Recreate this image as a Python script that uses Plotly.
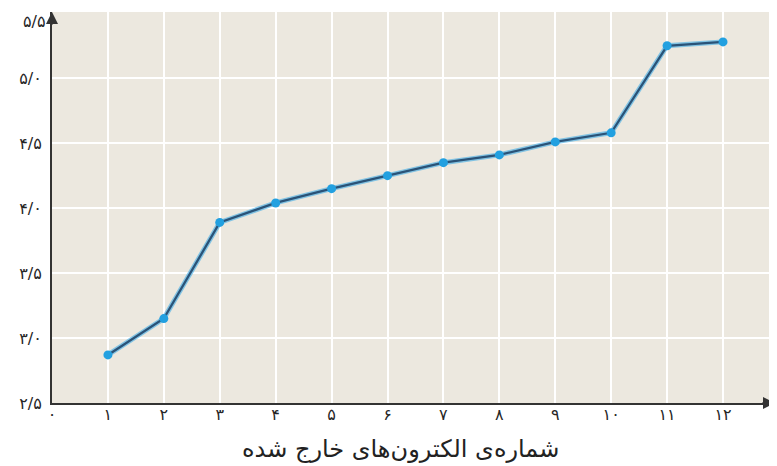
import plotly.graph_objects as go

electrons = [1, 2, 3, 4, 5, 6, 7, 8, 9, 10, 11, 12]
values = [2.87, 3.15, 3.89, 4.04, 4.15, 4.25, 4.35, 4.41, 4.51, 4.58, 5.25, 5.28]

x_tick_vals = list(range(0, 13))
x_tick_text = ["۰", "۱", "۲", "۳", "۴", "۵", "۶", "۷", "۸", "۹", "۱۰", "۱۱", "۱۲"]
y_tick_vals = [2.5, 3.0, 3.5, 4.0, 4.5, 5.0]
y_tick_text = ["۲/۵", "۳/۰", "۳/۵", "۴/۰", "۴/۵", "۵/۰"]
y_top_val = 5.5
y_top_text = "۵/۵"
x_title = "شماره‌ی الکترون‌های خارج شده"

fig = go.Figure()
fig.add_trace(go.Scatter(x=electrons, y=values, mode="lines",
                         line=dict(color="rgba(60,170,230,0.6)", width=5),
                         hoverinfo="skip", showlegend=False))
fig.add_trace(go.Scatter(x=electrons, y=values, mode="lines+markers",
                         line=dict(color="#2a5378", width=2.3),
                         marker=dict(color="#22a0e0", size=9),
                         showlegend=False))

# page body adds an 8px offset, so the figure is sized to fill the rest of the window
fig.update_layout(
    width=769, height=458,
    margin=dict(l=44, r=2, t=4, b=63),
    paper_bgcolor="white",
    plot_bgcolor="#ece8df",
    font=dict(family="DejaVu Sans", color="#262626", size=16),
)
fig.update_xaxes(range=[0, 12.93], tickvals=x_tick_vals, ticktext=x_tick_text,
                 showgrid=True, gridcolor="white", gridwidth=1.5,
                 showline=True, linecolor="#333333", linewidth=2,
                 zeroline=False, ticks="", tickfont=dict(size=16), automargin=False,
                 ticklabelstandoff=-4)
fig.update_yaxes(range=[2.5, 5.51], tickvals=y_tick_vals, ticktext=y_tick_text,
                 showgrid=True, gridcolor="white", gridwidth=1.5,
                 showline=True, linecolor="#333333", linewidth=2,
                 zeroline=False, ticks="", tickfont=dict(size=16), ticklabelstandoff=5,
                 automargin=False)

# top y label, nudged down so it stays inside the page
fig.add_annotation(x=0, xref="paper", xanchor="right", xshift=-4,
                   y=y_top_val, yref="y", yanchor="middle", yshift=-8,
                   text=y_top_text, showarrow=False, font=dict(size=16, color="#262626"))

# x axis title
fig.add_annotation(x=0.482, xref="paper", xanchor="center",
                   y=0, yref="paper", yanchor="middle", yshift=-46,
                   text=x_title, showarrow=False, font=dict(size=24, color="#222222"))

# axis arrowheads
fig.add_annotation(x=1, xref="paper", y=2.5, yref="y", ax=-14, ay=0,
                   axref="pixel", ayref="pixel", showarrow=True, arrowhead=2,
                   arrowsize=1.2, arrowwidth=2, arrowcolor="#333333", text="")
fig.add_annotation(x=0, xref="x", y=1, yref="paper", ax=0, ay=14,
                   axref="pixel", ayref="pixel", showarrow=True, arrowhead=2,
                   arrowsize=1.2, arrowwidth=2, arrowcolor="#333333", text="")

fig.write_html("out.html")
